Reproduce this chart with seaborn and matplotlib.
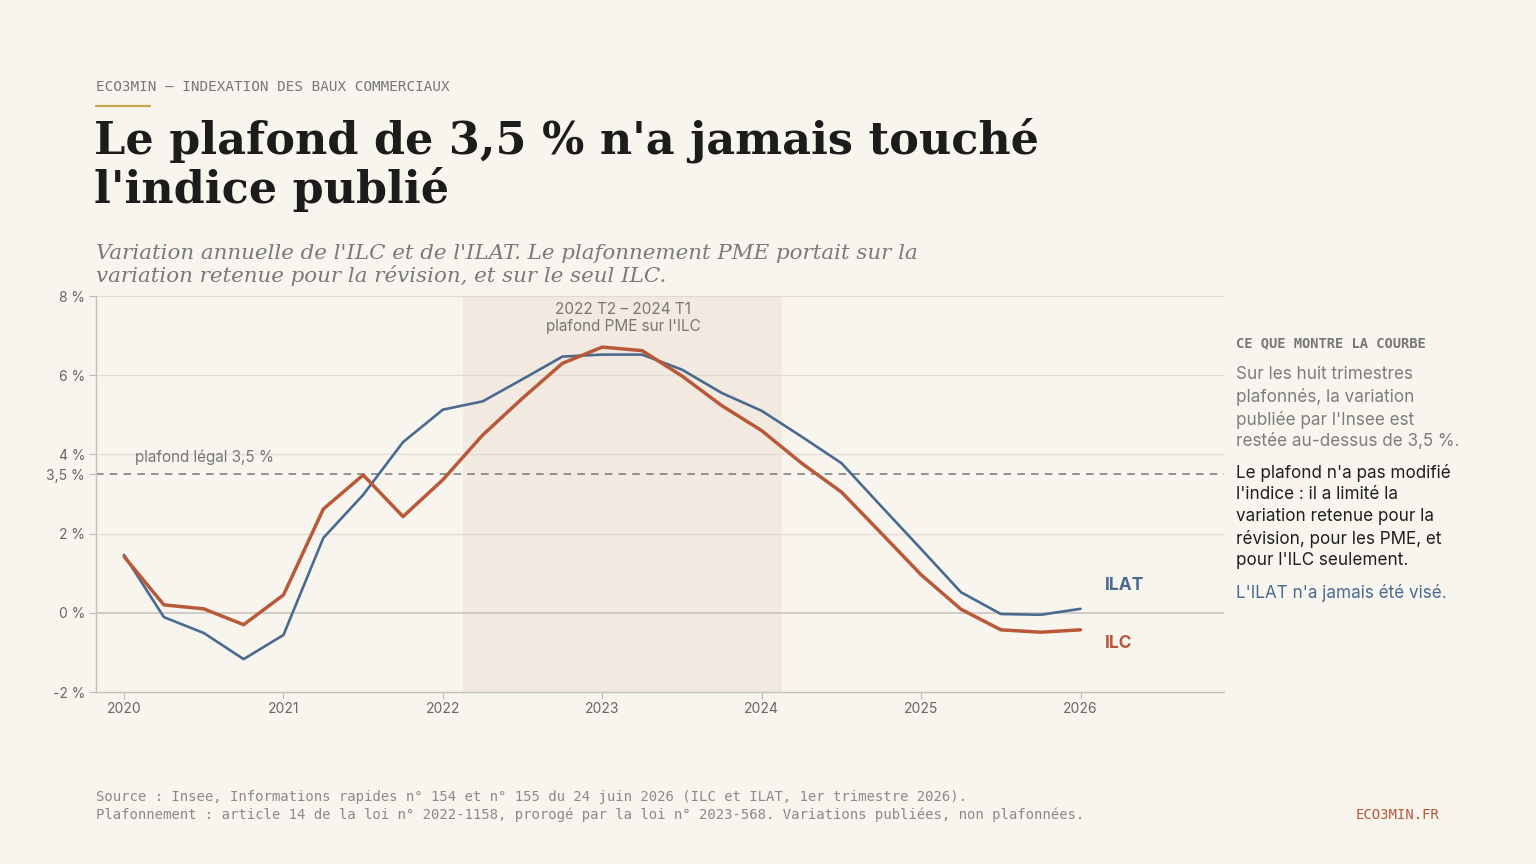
import pandas as pd
import matplotlib.pyplot as plt
import seaborn as sns

# Trimestres 2020 T1 -> 2026 T1
annees = [2020] * 4 + [2021] * 4 + [2022] * 4 + [2023] * 4 + [2024] * 4 + [2025] * 4 + [2026]
trimestres = [1, 2, 3, 4] * 6 + [1]

# Variation annuelle (%)
ilc = [1.42, 0.20, 0.10, -0.30, 0.45, 2.62, 3.48, 2.43, 3.36, 4.49, 5.42, 6.30,
       6.71, 6.62, 5.98, 5.23, 4.60, 3.78, 3.05, 2.01, 0.96, 0.09, -0.43, -0.49, -0.43]
ilat = [1.46, -0.11, -0.51, -1.17, -0.56, 1.89, 2.98, 4.31, 5.13, 5.34, 5.90, 6.47,
        6.52, 6.52, 6.14, 5.55, 5.10, 4.45, 3.78, 2.69, 1.61, 0.52, -0.03, -0.05, 0.10]

plafond = 3.5
periode_plafond = ((2022, 2), (2024, 1))
yticks = [-2, 0, 2, 3.5, 4, 6, 8]
ytick_labels = ["-2 %", "0 %", "2 %", "3,5 %", "4 %", "6 %", "8 %"]
xticks = [2020, 2021, 2022, 2023, 2024, 2025, 2026]

BG = "#f8f5ef"
BLEU = "#4a6a8f"
ORANGE = "#b85a3a"
GRIS = "#777777"

x = [a + (t - 1) / 4 for a, t in zip(annees, trimestres)]
df = pd.concat([
    pd.DataFrame({"date": x, "variation": ilat, "indice": "ILAT"}),
    pd.DataFrame({"date": x, "variation": ilc, "indice": "ILC"}),
])

sns.set_theme(style="white", rc={"axes.facecolor": BG, "figure.facecolor": BG})
plt.rcParams["font.family"] = ["Inter", "DejaVu Sans"]

fig = plt.figure(figsize=(15.36, 8.64), dpi=100)
ax = fig.add_axes([96 / 1536, 1 - 692 / 864, (1224 - 96) / 1536, (692 - 296) / 864])

# bande de plafonnement
(a0, t0), (a1, t1) = periode_plafond
ax.axvspan(a0 + (t0 - 1) / 4 - 0.125, a1 + (t1 - 1) / 4 + 0.125, color="#f2e9e0", zorder=0, lw=0)

for g in [2, 4, 6, 8]:
    ax.axhline(g, color="#e0dcd5", lw=0.9, zorder=1)
ax.axhline(0, color="#c4c0ba", lw=1.1, zorder=1)
ax.axhline(plafond, color="#777777", lw=1.1, ls=(0, (5, 4)), zorder=2)

sns.lineplot(data=df, x="date", y="variation", hue="indice", palette={"ILAT": BLEU, "ILC": ORANGE},
             ax=ax, legend=False, zorder=3)
lines = ax.get_lines()[-2:]
lines[0].set_linewidth(1.9)
lines[1].set_linewidth(2.5)

ax.set_xlim(2019.824, 2026.9)
ax.set_ylim(-2, 8)
ax.set_xticks(xticks)
ax.set_xticklabels([str(v) for v in xticks])
ax.set_yticks(yticks)
ax.set_yticklabels(ytick_labels)
ax.set_xlabel("")
ax.set_ylabel("")
ax.tick_params(axis="both", colors="#bbbbbb", labelcolor="#666666", labelsize=10, length=5, width=0.8,
               left=True, bottom=True, pad=3)
ax.tick_params(axis="x", pad=2)
for s in ["top", "right"]:
    ax.spines[s].set_visible(False)
for s in ["left", "bottom"]:
    ax.spines[s].set_color("#c4c0ba")
    ax.spines[s].set_linewidth(1)

ax.text(2020.07, 3.72, "plafond légal 3,5 %", color=GRIS, fontsize=11, va="bottom", ha="left")
ax.text(2023.13, 7.44, "2022 T2 – 2024 T1\nplafond PME sur l'ILC", color=GRIS, fontsize=11,
        ha="center", va="center", linespacing=1.15)
ax.text(2026.15, 0.68, "ILAT", color=BLEU, fontsize=12.5, fontweight="bold", va="center")
ax.text(2026.15, -0.77, "ILC", color=ORANGE, fontsize=12.5, fontweight="bold", va="center")


def fx(px):
    return px / 1536


def fy(py):
    return 1 - py / 864


mono = ["DejaVu Sans Mono"]
fig.text(fx(96), fy(87), "ECO3MIN — INDEXATION DES BAUX COMMERCIAUX", family=mono, fontsize=10.3,
         color=GRIS, va="center")
fig.add_artist(plt.Line2D([fx(96), fx(150)], [fy(106), fy(106)], color="#c9a54e", lw=1.6))
fig.text(fx(94), fy(203), "Le plafond de 3,5 % n'a jamais touché\nl'indice publié",
         family=["DejaVu Serif"], fontsize=32, fontweight="bold", color="#1c1c1c", va="baseline",
         linespacing=1.11)
fig.text(fx(96), fy(282), "Variation annuelle de l'ILC et de l'ILAT. Le plafonnement PME portait sur la\n"
         "variation retenue pour la révision, et sur le seul ILC.",
         family=["DejaVu Serif"], style="italic", fontsize=15.4, color="#7a7a7a", va="baseline",
         linespacing=1.1)

fig.text(fx(1236), fy(343), "CE QUE MONTRE LA COURBE", family=mono, fontsize=9.9, color=GRIS,
         fontweight="bold", va="center")
fig.text(fx(1236), fy(366), "Sur les huit trimestres\nplafonnés, la variation\npubliée par l'Insee est\n"
         "restée au-dessus de 3,5 %.", fontsize=12.3, color="#7d7d7d", va="top", linespacing=1.34)
fig.text(fx(1236), fy(464), "Le plafond n'a pas modifié\nl'indice : il a limité la\nvariation retenue pour la\n"
         "révision, pour les PME, et\npour l'ILC seulement.", fontsize=12.3, color="#1f1f1f", va="top",
         linespacing=1.34)
fig.text(fx(1236), fy(584), "L'ILAT n'a jamais été visé.", fontsize=12.3, color=BLEU, va="top")

fig.text(fx(96), fy(797), "Source : Insee, Informations rapides n° 154 et n° 155 du 24 juin 2026 "
         "(ILC et ILAT, 1er trimestre 2026).", family=mono, fontsize=10.05, color="#8a8a8a", va="center")
fig.text(fx(96), fy(815), "Plafonnement : article 14 de la loi n° 2022-1158, prorogé par la loi n° 2023-568. "
         "Variations publiées, non plafonnées.", family=mono, fontsize=10.05, color="#8a8a8a", va="center")
fig.text(fx(1439), fy(815), "ECO3MIN.FR", family=mono, fontsize=10.05, color=ORANGE, va="center", ha="right")

fig.savefig("out.png", dpi=100, facecolor=BG)
